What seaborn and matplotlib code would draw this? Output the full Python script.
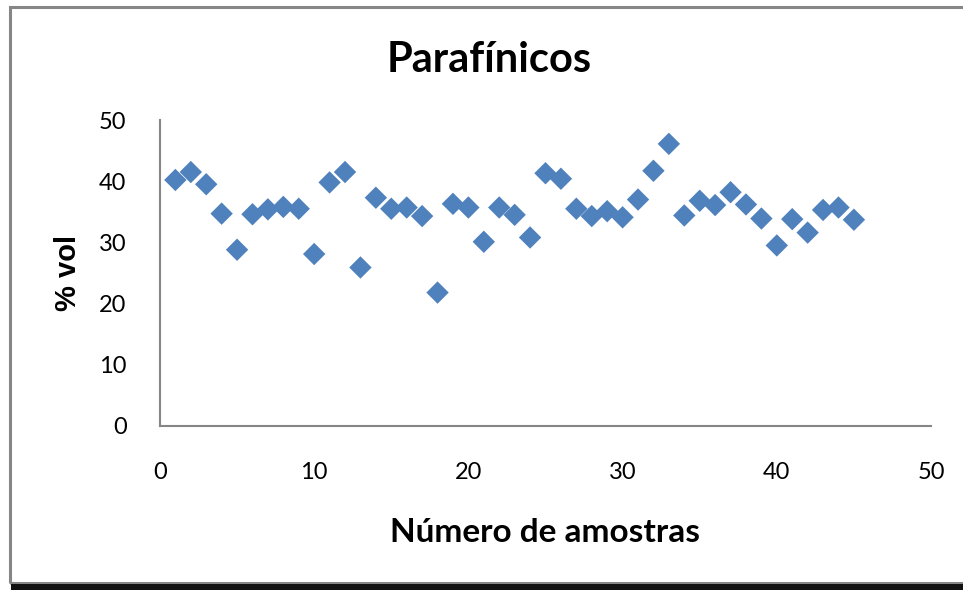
import numpy as np
import pandas as pd
import matplotlib
matplotlib.use("Agg")
import matplotlib.pyplot as plt
from matplotlib.patches import Rectangle
import seaborn as sns

# Sample number and paraffin content (% vol)
amostras = list(range(1, 46))
parafinicos = [40.2, 41.5, 39.5, 34.7, 28.8, 34.6, 35.4, 35.8, 35.5, 28.1,
               39.8, 41.5, 25.9, 37.3, 35.5, 35.7, 34.3, 21.8, 36.3, 35.7,
               30.1, 35.7, 34.5, 30.8, 41.3, 40.4, 35.5, 34.3, 35.1, 34.1,
               37.0, 41.7, 46.1, 34.4, 36.8, 36.1, 38.2, 36.2, 33.9, 29.5,
               33.8, 31.6, 35.3, 35.7, 33.7]
x_ticks = [0, 10, 20, 30, 40, 50]
y_ticks = [0, 10, 20, 30, 40, 50]

df = pd.DataFrame({"amostra": amostras, "vol": parafinicos})

sns.set_theme(style="white")
plt.rcParams['font.family'] = ['Lato', 'DejaVu Sans']
plt.rcParams['text.color'] = 'black'
plt.rcParams['axes.labelcolor'] = 'black'

fig = plt.figure(figsize=(9.63, 5.90), dpi=100)
ax = fig.add_axes([0.1661, 0.278, 0.8007, 0.5186])

sns.scatterplot(data=df, x="amostra", y="vol", marker="D", s=130,
                color="#4F81BD", edgecolor="none", ax=ax)

ax.set_xlim(0, 50)
ax.set_ylim(0, 50)
ax.set_xticks(x_ticks)
ax.set_yticks(y_ticks)
ax.tick_params(axis="both", length=0, labelsize=17, colors="black")
ax.tick_params(axis="x", pad=26)
ax.tick_params(axis="y", pad=24)

for side in ["top", "right"]:
    ax.spines[side].set_visible(False)
for side in ["left", "bottom"]:
    ax.spines[side].set_color("#868686")
    ax.spines[side].set_linewidth(1.5)

ax.set_xlabel("Número de amostras", fontsize=24, fontweight="bold", labelpad=25)
ax.set_ylabel("% vol", fontsize=21, fontweight="bold",
              family=["Liberation Sans", "DejaVu Sans"], labelpad=12)
fig.text(0.508, 0.898, "Parafínicos", ha="center", va="center",
         fontsize=30, fontweight="bold")

# chart frame with a dark shadow along the bottom
fig.patches.append(Rectangle((10 / 963, 7 / 590), 1.0, 576 / 590,
                             transform=fig.transFigure, fill=False,
                             edgecolor="#868686", linewidth=2.2))
fig.patches.append(Rectangle((11 / 963, 0), 1.0, 6 / 590,
                             transform=fig.transFigure, facecolor="#111111",
                             edgecolor="none"))

fig.savefig("out.png", dpi=100)
